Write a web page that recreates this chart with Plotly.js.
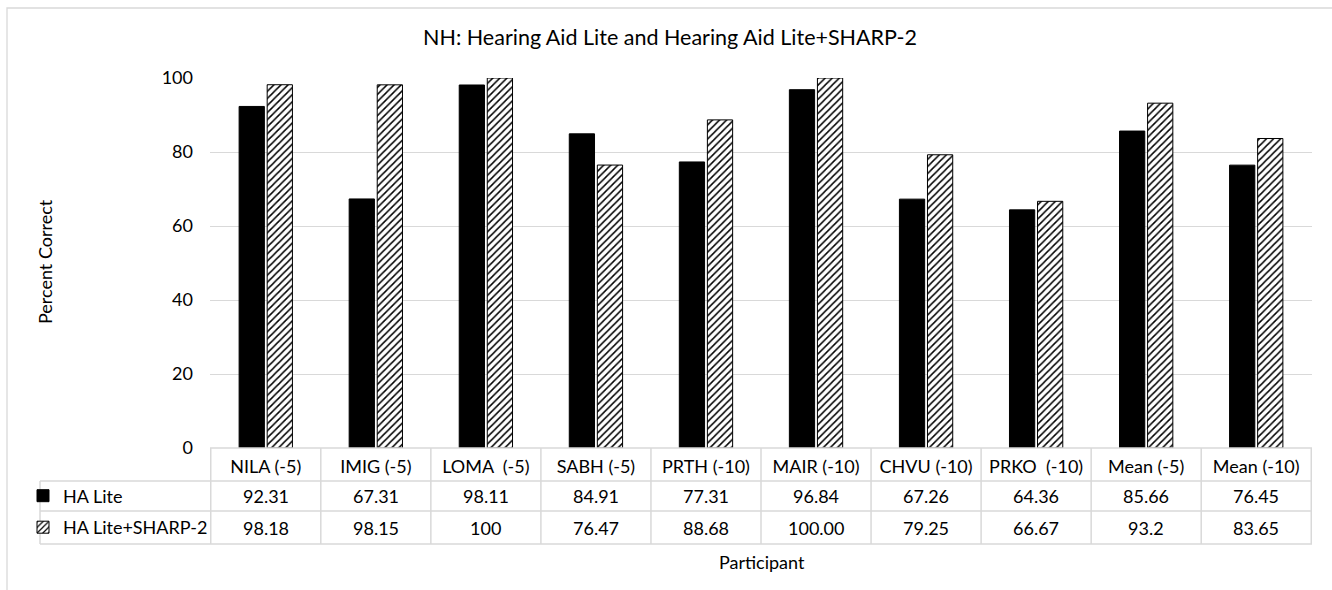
<!DOCTYPE html>
<html>
<head>
<meta charset="utf-8">
<script src="https://cdn.plot.ly/plotly-3.0.1.min.js"></script>
<style>html,body{margin:0;padding:0;background:#fff;}#chart{width:1332px;height:590px;}</style>
</head>
<body>
<div id="chart"></div>
<script>
// ---- data ----
const participants = ["NILA (-5)", "IMIG (-5)", "LOMA  (-5)", "SABH (-5)", "PRTH (-10)", "MAIR (-10)", "CHVU (-10)", "PRKO  (-10)", "Mean (-5)", "Mean (-10)"];
const haLite = [92.31, 67.31, 98.11, 84.91, 77.31, 96.84, 67.26, 64.36, 85.66, 76.45];
const haLiteSharp = [98.18, 98.15, 100, 76.47, 88.68, 100.00, 79.25, 66.67, 93.2, 83.65];
const haLiteLabels = ["92.31", "67.31", "98.11", "84.91", "77.31", "96.84", "67.26", "64.36", "85.66", "76.45"];
const haLiteSharpLabels = ["98.18", "98.15", "100", "76.47", "88.68", "100.00", "79.25", "66.67", "93.2", "83.65"];
const seriesNames = ["HA Lite", "HA Lite+SHARP-2"];
const yTicks = [0, 20, 40, 60, 80, 100];

// ---- geometry (pixels) ----
const W = 1332, H = 590;
const L = 210, R = 20, T = 78, B = 142;
const plotW = W - L - R, plotH = H - T - B;
const zeroY = H - B;
const py = Y => (zeroY - Y) / plotH;      // pixel y -> paper y
const px = X => (X - L) / plotW;          // pixel x -> paper x
const FONT = "Lato, 'Open Sans', sans-serif";
const FS = 18;
const GRID = "#d9d9d9";

const rowTop = 448, row1 = 481, row2 = 511, rowBot = 544, tableLeft = 40;

const traces = [
  {
    type: "bar", x: participants, y: haLite, name: seriesNames[0],
    marker: {color: "#000000", line: {color: "#000000", width: 1}},
    legend: "legend", hoverinfo: "x+y"
  },
  {
    type: "bar", x: participants, y: haLiteSharp, name: seriesNames[1],
    marker: {color: "#ffffff", line: {color: "#000000", width: 1},
             pattern: {shape: "/", fgcolor: "#000000", bgcolor: "#ffffff", size: 5, solidity: 0.3}},
    legend: "legend2", hoverinfo: "x+y"
  }
];

const shapes = [];
// outer chart border
shapes.push({type: "rect", xref: "paper", yref: "paper", x0: px(7), x1: px(1400), y0: py(8), y1: py(700),
  line: {color: GRID, width: 1.3}, fillcolor: "rgba(0,0,0,0)", layer: "below"});
// table horizontal lines
shapes.push({type: "line", xref: "paper", yref: "paper", x0: px(L), x1: 1, y0: py(rowTop), y1: py(rowTop), line: {color: GRID, width: 1.5}});
[row1, row2, rowBot].forEach(yy => shapes.push({type: "line", xref: "paper", yref: "paper", x0: px(tableLeft), x1: 1, y0: py(yy), y1: py(yy), line: {color: GRID, width: 1.5}}));
// table vertical lines
shapes.push({type: "line", xref: "paper", yref: "paper", x0: px(tableLeft), x1: px(tableLeft), y0: py(row1), y1: py(rowBot), line: {color: GRID, width: 1.5}});
for (let i = 0; i <= participants.length; i++) {
  shapes.push({type: "line", xref: "x", yref: "paper", x0: i - 0.5, x1: i - 0.5, y0: py(rowTop), y1: py(rowBot), line: {color: GRID, width: 1.5}});
}

const annotations = [];
participants.forEach((p, i) => {
  annotations.push({xref: "x", yref: "paper", x: p, y: py((row1 + row2) / 2), text: haLiteLabels[i], showarrow: false,
    xanchor: "center", yanchor: "middle", font: {family: FONT, size: FS, color: "#000"}});
  annotations.push({xref: "x", yref: "paper", x: p, y: py((row2 + rowBot) / 2), text: haLiteSharpLabels[i], showarrow: false,
    xanchor: "center", yanchor: "middle", font: {family: FONT, size: FS, color: "#000"}});
});
// axis titles
annotations.push({xref: "paper", yref: "paper", x: px(45), y: py(262), text: "Percent Correct", textangle: -90, showarrow: false,
  xanchor: "center", yanchor: "middle", font: {family: FONT, size: FS, color: "#000"}});
annotations.push({xref: "paper", yref: "paper", x: px(762), y: py(562), text: "Participant", showarrow: false,
  xanchor: "center", yanchor: "middle", font: {family: FONT, size: FS, color: "#000"}});

const layout = {
  width: W, height: H,
  margin: {l: L, r: R, t: T, b: B},
  paper_bgcolor: "#ffffff", plot_bgcolor: "#ffffff",
  font: {family: FONT, size: FS, color: "#000"},
  title: {text: "NH: Hearing Aid Lite and Hearing Aid Lite+SHARP-2", x: 670 / W, xref: "container", xanchor: "center",
          y: 1 - 37 / H, yref: "container", yanchor: "middle", font: {family: FONT, size: 21.5, color: "#000"}},
  barmode: "group", bargap: 0.49, bargroupgap: 0.1,
  xaxis: {type: "category", showgrid: false, zeroline: false, showline: false, ticks: "",
          tickfont: {family: FONT, size: FS, color: "#000"}, ticklabelstandoff: 6, fixedrange: true},
  yaxis: {range: [0, 100], tickvals: yTicks, showgrid: true, gridcolor: GRID, gridwidth: 1.3, zeroline: false,
          showline: false, ticks: "", tickfont: {family: FONT, size: FS, color: "#000"}, ticklabelstandoff: 16, fixedrange: true},
  showlegend: true,
  legend: {x: px(23), xanchor: "left", y: py((row1 + row2) / 2), yanchor: "middle", bgcolor: "rgba(0,0,0,0)",
           font: {family: FONT, size: FS, color: "#000"}, itemclick: false, itemdoubleclick: false},
  legend2: {x: px(23), xanchor: "left", y: py((row2 + rowBot) / 2), yanchor: "middle", bgcolor: "rgba(0,0,0,0)",
           font: {family: FONT, size: FS, color: "#000"}, itemclick: false, itemdoubleclick: false},
  shapes: shapes,
  annotations: annotations
};

Plotly.newPlot("chart", traces, layout, {displayModeBar: false, staticPlot: false});
</script>
</body>
</html>
